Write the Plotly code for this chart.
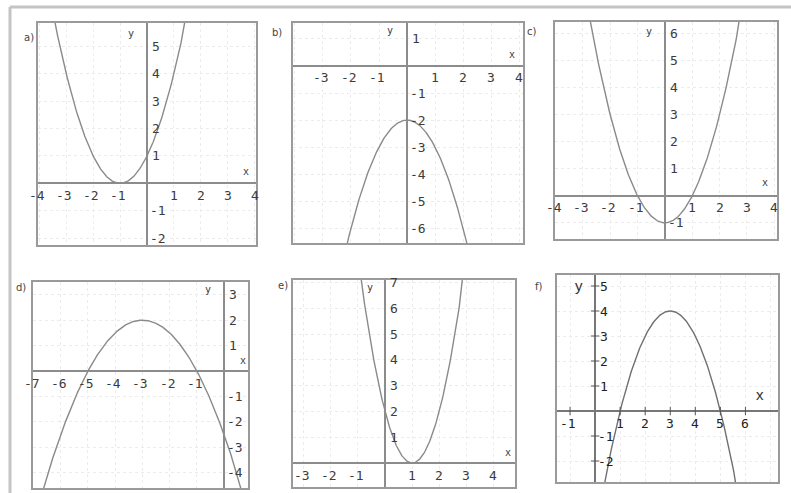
import numpy as np
import plotly.graph_objects as go

W, H = 791, 493

# panel names and parabola coefficients y = a*(x-h)^2 + k
panels = ["a)", "b)", "c)", "d)", "e)", "f)"]
coef_a = [1.0, -1.0, 1.0, -0.5, 2.0, -1.0]
coef_h = [-1.0, 0.0, 0.0, -3.0, 1.0, 3.0]
coef_k = [0.0, -2.0, -1.0, 2.0, 0.0, 4.0]

# visible window of each panel
x_ranges = [[-4.05, 4.05], [-4.07, 4.14], [-4.02, 4.1], [-7.02, 0.88], [-3.4, 4.8], [-1.52, 7.3]]
y_ranges = [[-2.25, 5.85], [-6.55, 1.59], [-1.6, 6.44], [-4.6, 3.5], [-0.93, 7.1], [-2.84, 5.44]]

# tick labels written next to the axes
x_ticks = [
    [-4, -3, -2, -1, 1, 2, 3, 4],
    [-3, -2, -1, 1, 2, 3, 4],
    [-4, -3, -2, -1, 1, 2, 3, 4],
    [-7, -6, -5, -4, -3, -2, -1],
    [-3, -2, -1, 1, 2, 3, 4],
    [-1, 1, 2, 3, 4, 5, 6],
]
y_ticks = [
    [-2, -1, 1, 2, 3, 4, 5],
    [-6, -5, -4, -3, -2, -1, 1],
    [-1, 1, 2, 3, 4, 5, 6],
    [-4, -3, -2, -1, 1, 2, 3],
    [1, 2, 3, 4, 5, 6, 7],
    [-2, -1, 1, 2, 3, 4, 5],
]

# pixel boxes (left, top, right, bottom)
boxes = [
    (38, 23, 256, 245), (293, 23, 523, 243), (555, 22, 777, 239),
    (33, 282, 248, 488), (293, 280, 515, 487), (557, 275, 778, 482),
]
label_pos = [(22, 30), (277, 25), (538, 24), (14, 287), (283, 285), (545, 286)]
xlab_pos = [(3.67, 0.42), (3.75, 0.42), (3.67, 0.48), (0.7, 0.43), (4.55, 0.42), (6.6, 0.68)]
ylab_pos = [(-0.6, 5.47), (-0.6, 1.3), (-0.6, 6.1), (-0.6, 3.2), (-0.55, 6.8), (-0.64, 5.04)]

fig = go.Figure()
layout = {}
annotations = []
mono = dict(family="DejaVu Sans Mono", size=13, color="#3c3c3c")

for i in range(6):
    n = "" if i == 0 else str(i + 1)
    xa, ya = "x" + n, "y" + n
    l, t, r, b = boxes[i]
    last = i == 5
    line_col = "#777" if last else "#8c8c8c"

    xs = np.linspace(x_ranges[i][0] - 0.5, x_ranges[i][1] + 0.5, 400)
    ys = coef_a[i] * (xs - coef_h[i]) ** 2 + coef_k[i]
    fig.add_trace(go.Scatter(x=xs, y=ys, mode="lines", xaxis=xa, yaxis=ya,
                             line=dict(color="#707070" if last else "#8a8a8a", width=1.4),
                             showlegend=False, hoverinfo="skip"))
    if last:
        fig.add_trace(go.Scatter(x=x_ticks[i], y=[0] * len(x_ticks[i]), mode="markers",
                                 xaxis=xa, yaxis=ya, showlegend=False, hoverinfo="skip",
                                 marker=dict(symbol="line-ns-open", size=6, color="#555",
                                             line=dict(color="#555", width=1))))
        fig.add_trace(go.Scatter(x=[0] * len(y_ticks[i]), y=y_ticks[i], mode="markers",
                                 xaxis=xa, yaxis=ya, showlegend=False, hoverinfo="skip",
                                 marker=dict(symbol="line-ew-open", size=6, color="#555",
                                             line=dict(color="#555", width=1))))

    common = dict(showline=True, mirror=True, linecolor="#9a9a9a", linewidth=2,
                  zeroline=True, zerolinecolor=line_col, zerolinewidth=2,
                  showgrid=True, gridcolor="#ececec", griddash="dot", gridwidth=1,
                  dtick=1, showticklabels=False, ticks="", fixedrange=True)
    layout["xaxis" + n] = dict(common, domain=[l / W, r / W], range=x_ranges[i],
                               anchor=ya)
    layout["yaxis" + n] = dict(common, domain=[1 - b / H, 1 - t / H], range=y_ranges[i],
                               anchor=xa)

    font = dict(family="DejaVu Sans Mono", size=13, color="#222") if last else mono
    for v in x_ticks[i]:
        annotations.append(dict(x=v, y=0, xref=xa, yref=ya, text=str(v), showarrow=False,
                                yshift=-12, xshift=-2 if v < 0 else 0, font=font))
    for v in y_ticks[i]:
        annotations.append(dict(x=0, y=v, xref=xa, yref=ya, text=str(v), showarrow=False,
                                xanchor="left", xshift=3 if v > 0 else 1, font=font))
    big = dict(family="Liberation Sans", size=15, color="#333")
    annotations.append(dict(x=xlab_pos[i][0], y=xlab_pos[i][1], xref=xa, yref=ya, text="x",
                            showarrow=False, font=big if last else dict(mono, size=10)))
    annotations.append(dict(x=ylab_pos[i][0], y=ylab_pos[i][1], xref=xa, yref=ya, text="y",
                            showarrow=False, font=big if last else dict(mono, size=10)))
    annotations.append(dict(x=label_pos[i][0] / W, y=1 - label_pos[i][1] / H, xref="paper",
                            yref="paper", text=panels[i], showarrow=False,
                            font=dict(family="DejaVu Sans", size=10, color="#444")))

# outer frame
shapes = [
    dict(type="line", xref="paper", yref="paper", x0=10 / W, x1=1, y0=1 - 7 / H, y1=1 - 7 / H,
         line=dict(color="#c4c4c4", width=3)),
    dict(type="line", xref="paper", yref="paper", x0=10 / W, x1=10 / W, y0=0, y1=1 - 7 / H,
         line=dict(color="#c4c4c4", width=3)),
]

fig.update_layout(width=W, height=H, margin=dict(l=0, r=0, t=0, b=0),
                  paper_bgcolor="white", plot_bgcolor="white",
                  annotations=annotations, shapes=shapes, **layout)

# drop the browser's default body margin so the figure sits at the page corner
fig.write_html("out.html", config={"displayModeBar": False},
               post_script="document.body.style.margin='0';")
